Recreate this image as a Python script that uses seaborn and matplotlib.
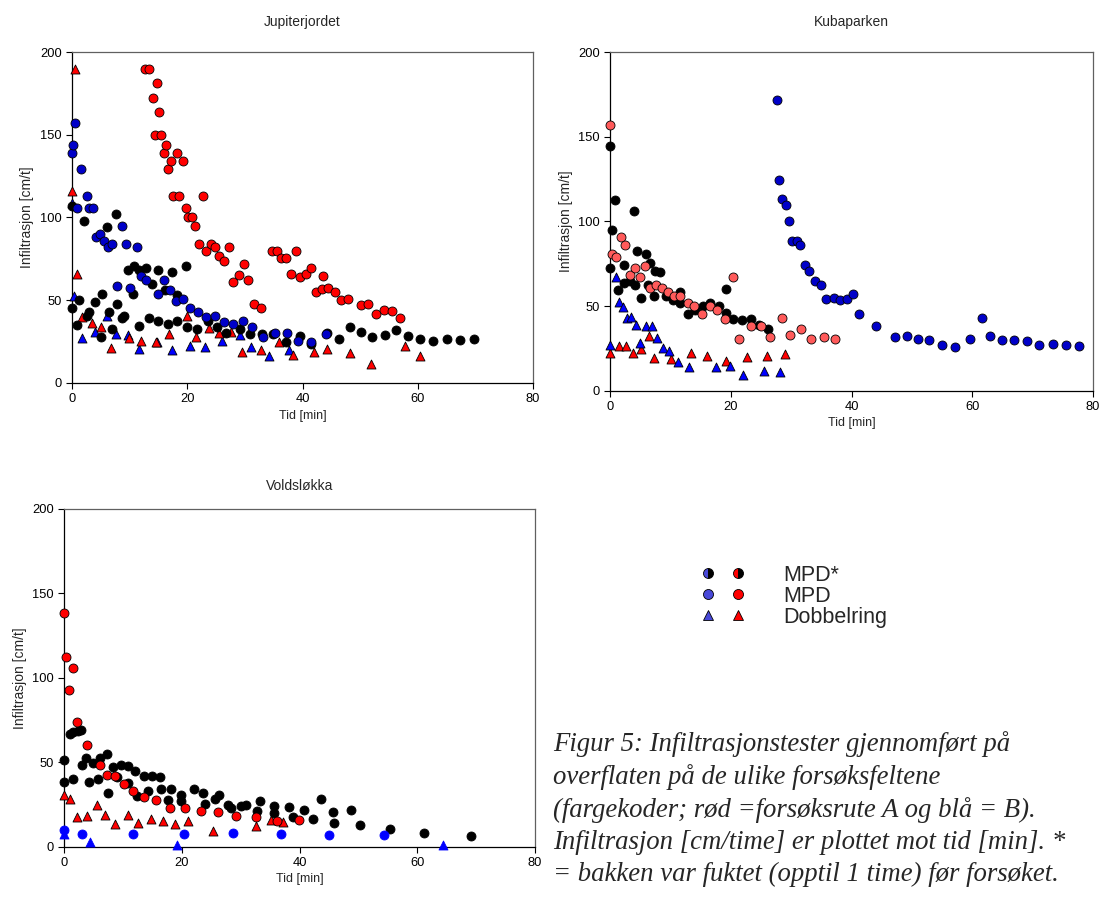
import matplotlib
matplotlib.use("Agg")
import matplotlib.pyplot as plt
import seaborn as sns
import pandas as pd
from matplotlib.lines import Line2D
from matplotlib.legend_handler import HandlerTuple

# ---- data: (tid [min], infiltrasjon [cm/t]) ----

# Jupiterjordet
jup_mpd_a = [(12.7, 190), (13.4, 190), (14.1, 172), (14.4, 150), (14.8, 181), (15.1, 164),
             (15.5, 150), (15.9, 139), (16.3, 144), (16.7, 129), (17.2, 134), (17.6, 113),
             (18.2, 139), (18.6, 113), (19.2, 134), (19.7, 106), (20.2, 100), (20.9, 100),
             (21.4, 95), (22.0, 84), (22.8, 113), (23.3, 80), (24.1, 84), (24.8, 82),
             (25.5, 77), (26.3, 74), (27.2, 82), (27.9, 61), (28.9, 65), (29.8, 72),
             (30.6, 62), (31.6, 48), (32.8, 45), (34.7, 80), (35.6, 80), (36.2, 75.5),
             (37.2, 75.5), (38.0, 66), (38.9, 80), (39.6, 64), (40.6, 66), (41.5, 69.5),
             (42.4, 55), (43.4, 56.6), (43.5, 64.7), (44.5, 57.6), (45.6, 55), (46.7, 50),
             (47.9, 50.5), (50.1, 47), (51.4, 47.7), (52.7, 41.7), (54.1, 44), (55.5, 43.3),
             (56.9, 39)]
jup_mpd_b = [(0.0, 139), (0.1, 144), (0.5, 157), (0.9, 106), (1.5, 129), (2.6, 113),
             (3.0, 106), (3.7, 106), (4.2, 88), (4.9, 90), (5.6, 86), (6.3, 82), (7.0, 84),
             (7.8, 58.6), (8.7, 95), (9.4, 84), (10.1, 57.4), (11.2, 82), (11.9, 64.7),
             (12.9, 62.4), (14.9, 54), (16.0, 62.4), (17.0, 56), (18.0, 49.7), (19.3, 50.5),
             (20.5, 45), (21.9, 43), (23.3, 40), (24.8, 40.7), (26.3, 37), (28.0, 35.6),
             (29.7, 37.5), (31.3, 33.8), (33.1, 27.6), (35.3, 30.2), (37.3, 30.2),
             (39.3, 25.6), (41.5, 24.6), (44.1, 29.4)]
jup_mpd_fuktet = [(0.0, 45), (0.0, 107), (0.9, 34.8), (1.2, 50.4), (2.0, 97.7), (2.6, 40.7),
                  (3.0, 43), (4.0, 49), (5.0, 27.6), (5.2, 54), (6.0, 94), (6.4, 43),
                  (6.9, 32.8), (7.7, 102), (7.8, 47.7), (8.7, 39.3), (9.0, 40.7), (9.7, 68.3),
                  (10.5, 54), (10.8, 70.5), (11.6, 34.2), (11.7, 68.3), (12.8, 69.5),
                  (13.4, 39.3), (13.8, 59.6), (14.9, 68.3), (14.9, 37.7), (16.1, 56),
                  (16.6, 35.6), (17.3, 67), (18.3, 53), (18.3, 37.7), (19.7, 70.5),
                  (19.9, 33.8), (21.7, 32.8), (23.6, 37.3), (25.2, 33.8), (26.8, 30.2),
                  (29.1, 32.6), (30.9, 29.6), (33.0, 29.8), (34.9, 29.8), (37.2, 24.6),
                  (39.5, 28.6), (41.5, 23.8), (44.2, 30.2), (46.3, 26.4), (48.3, 33.8),
                  (50.1, 30.8), (52.0, 27.8), (54.3, 29.2), (56.3, 32.2), (58.3, 28.6),
                  (60.4, 26.6), (62.7, 25.6), (65.0, 26.8), (67.3, 26.2), (69.7, 26.4)]
jup_ring_a = [(0.0, 116), (0.5, 190), (0.8, 66), (1.7, 40), (3.4, 36), (5.0, 34), (6.7, 21),
              (9.8, 27), (12.0, 25.6), (14.5, 24.8), (16.9, 29.4), (19.9, 40.7), (21.5, 27.6),
              (23.7, 33), (25.5, 30.2), (27.6, 31), (29.5, 18.5), (32.8, 20), (35.9, 24.8),
              (38.4, 17), (42.0, 18.7), (44.3, 20.7), (48.3, 18), (51.8, 11.3), (57.7, 22.6),
              (60.4, 16.5)]
jup_ring_b = [(0.0, 109), (0.35, 52.5), (1.7, 27), (3.95, 30.6), (6.0, 40.3), (7.6, 29.8),
              (9.7, 28.8), (11.7, 20.7), (14.7, 24.8), (17.3, 20), (20.4, 22.6), (23.1, 21.6),
              (26.0, 25.2), (29.1, 29), (31.1, 21.8), (34.1, 16.5), (37.7, 20)]

# Kubaparken
kuba_mpd_a = [(0.0, 157), (0.3, 80.8), (1.0, 78.8), (1.8, 90.6), (2.5, 86.3), (3.2, 68.4),
              (4.1, 72.5), (4.9, 67.4), (5.7, 73.9), (6.6, 60.5), (7.6, 62.6), (8.6, 60.5),
              (9.6, 58.5), (10.6, 56.1), (11.6, 55.8), (12.8, 52), (13.9, 49.8), (15.2, 45.3),
              (16.5, 49.8), (17.7, 47.7), (19.0, 42.4), (20.4, 67.2), (21.3, 30.5),
              (23.3, 38.4), (24.9, 38.4), (26.5, 31.9), (28.4, 43), (29.8, 32.9),
              (31.6, 36.2), (33.3, 30.5), (35.4, 31.7), (37.2, 30.5)]
kuba_mpd_b = [(27.7, 172), (28.0, 124.7), (28.5, 113), (29.1, 109.7), (29.6, 100.5),
              (30.1, 88.3), (30.9, 88.3), (31.5, 86.3), (32.3, 74), (33.0, 71), (33.9, 65),
              (34.9, 62.5), (35.8, 54.2), (37.0, 55), (38.0, 53.4), (39.2, 54.2), (40.3, 57),
              (41.3, 45.3), (44.0, 38.4), (47.2, 31.7), (49.1, 32.5), (51.0, 30.3),
              (52.9, 30.1), (55.0, 27), (57.2, 26), (59.6, 30.5), (61.6, 43), (63.0, 32.3),
              (64.9, 30.1), (66.9, 29.7), (69.0, 29.2), (71.1, 27), (73.3, 27.8), (75.5, 27),
              (77.7, 26.2)]
kuba_mpd_fuktet = [(0.0, 144.6), (0.0, 72.5), (0.3, 95.2), (0.7, 112.9), (1.3, 59.5),
                   (2.2, 74), (2.3, 63.8), (3.2, 64.6), (3.9, 106.4), (4.1, 62.5), (4.4, 82.3),
                   (5.1, 55), (5.9, 80.6), (6.2, 62.5), (6.6, 75.6), (7.2, 55.8), (7.4, 71),
                   (8.3, 70), (9.3, 55.8), (10.4, 53.8), (11.6, 58.1), (11.5, 51.8),
                   (12.8, 45.3), (14.1, 47.7), (15.3, 50), (16.5, 52), (18.0, 49.8),
                   (19.2, 60.3), (19.1, 46.1), (20.4, 42.4), (21.8, 41.8), (23.3, 42.6),
                   (24.7, 38.8), (26.2, 36.6)]
kuba_ring_a = [(0.0, 22), (1.4, 26.6), (2.6, 26.6), (3.7, 22), (5.1, 24.6), (6.4, 32.5),
               (7.3, 19.5), (10.0, 18.7), (13.3, 22.5), (16.1, 20.7), (19.1, 17.7),
               (22.7, 20.1), (25.9, 20.5), (28.9, 21.7)]
kuba_ring_b = [(0.0, 27), (1.0, 67.4), (1.5, 52.2), (2.1, 49.4), (2.7, 42.8), (3.5, 43.5),
               (4.2, 38.8), (5.0, 28.4), (5.9, 38.2), (6.9, 38.2), (7.7, 30.9), (8.7, 25.4),
               (9.8, 23.4), (11.2, 17.1), (13.0, 14), (17.5, 13.8), (19.8, 14.8), (22.0, 9.3),
               (25.4, 11.6), (28.2, 11)]

# Voldsløkka
vold_mpd_a = [(0.0, 138.4), (0.3, 112.5), (0.85, 92.6), (1.5, 106), (2.1, 73.6), (3.8, 60.2),
              (6.0, 48.2), (7.3, 42.6), (8.7, 41.7), (10.1, 37.3), (11.7, 32.8), (13.6, 29.2),
              (15.6, 27.4), (17.9, 23.1), (20.5, 22.7), (23.2, 21.1), (26.1, 20.5),
              (29.1, 18.2), (32.5, 17.6), (36.1, 15.4), (39.9, 15.8)]
vold_mpd_b = [(0.0, 10), (3.0, 7.5), (11.7, 7.5), (20.3, 7.5), (28.7, 7.9), (36.8, 7.5),
              (45.0, 7.1), (54.4, 7.1)]
vold_mpd_fuktet = [(0.0, 51.5), (0.0, 38.1), (1.0, 66.7), (1.5, 67.7), (2.3, 68.7), (2.9, 69.3),
                   (1.5, 40.3), (3.0, 48.2), (3.7, 52.7), (4.2, 38.5), (4.8, 49.8), (5.8, 40.3),
                   (6.1, 52.7), (7.2, 54.9), (7.4, 32), (8.3, 47.2), (8.9, 41.5), (9.6, 48.2),
                   (10.8, 47.8), (10.8, 37.5), (12.1, 45), (12.4, 29.8), (13.5, 41.7),
                   (14.3, 33), (14.9, 41.7), (16.2, 41.3), (16.4, 34.4), (17.6, 27.8),
                   (18.1, 34.2), (19.9, 30.6), (19.9, 27.2), (22.0, 34.4), (23.6, 31.6),
                   (23.9, 25.5), (25.6, 28), (26.3, 30.6), (27.8, 24.5), (28.3, 23.1),
                   (30.1, 24.1), (30.9, 24.5), (32.8, 21.3), (33.3, 26.9), (35.6, 23.9),
                   (35.6, 19.7), (38.2, 23.3), (38.8, 17.8), (40.7, 21.7), (42.2, 16.4),
                   (43.6, 28), (45.7, 20.3), (45.9, 13.8), (48.7, 21.5), (50.3, 12.6),
                   (55.4, 10.7), (61.1, 8.1), (69.1, 6.5)]
vold_ring_a = [(0.0, 30.4), (1.0, 28), (2.1, 17.8), (3.9, 18.2), (5.6, 24.9), (6.9, 18.8),
               (8.6, 13.4), (10.8, 18.8), (12.5, 13.8), (14.8, 16.4), (16.7, 15), (18.8, 13.4),
               (21.1, 15), (25.2, 9.3), (32.6, 12.4), (35.2, 15.8), (37.1, 14.8)]
vold_ring_b = [(0.0, 7.7), (4.3, 2.6), (19.2, 1.2), (64.4, 1.2)]

panel_names = ["Jupiterjordet", "Kubaparken", "Voldsløkka"]
legend_labels = ["MPD*", "MPD", "Dobbelring"]
caption_lines = [
    "Figur 5: Infiltrasjonstester gjennomført på",
    "overflaten på de ulike forsøksfeltene",
    "(fargekoder; rød =forsøksrute A og blå = B).",
    "Infiltrasjon [cm/time] er plottet mot tid [min]. *",
    "= bakken var fuktet (opptil 1 time) før forsøket.",
]

RED = "#FF0000"
LIGHT_RED = "#FF5A5A"
DARK_BLUE = "#0000C8"
BLUE = "#0000FF"
LEGEND_BLUE = "#4848D8"

# series drawn per panel: (data, marker, face colour, edge colour)
panels = {
    "Jupiterjordet": [
        (jup_ring_b, "^", BLUE, "black"),
        (jup_ring_a, "^", RED, "black"),
        (jup_mpd_fuktet, "o", "black", "black"),
        (jup_mpd_b, "o", DARK_BLUE, "black"),
        (jup_mpd_a, "o", RED, "black"),
    ],
    "Kubaparken": [
        (kuba_ring_a, "^", RED, "black"),
        (kuba_ring_b, "^", BLUE, "black"),
        (kuba_mpd_fuktet, "o", "black", "black"),
        (kuba_mpd_a, "o", LIGHT_RED, "black"),
        (kuba_mpd_b, "o", DARK_BLUE, "black"),
    ],
    "Voldsløkka": [
        (vold_ring_a, "^", RED, "black"),
        (vold_ring_b, "^", BLUE, BLUE),
        (vold_mpd_fuktet, "o", "black", "black"),
        (vold_mpd_a, "o", RED, "black"),
        (vold_mpd_b, "o", BLUE, BLUE),
    ],
}

sns.set_style("white")
plt.rcParams["font.family"] = ["Liberation Sans", "DejaVu Sans"]

fig = plt.figure(figsize=(11.1, 9.06), dpi=100)
ax_rects = {
    "Jupiterjordet": [0.0649, 0.5773, 0.4153, 0.3653],
    "Kubaparken": [0.5498, 0.5688, 0.4349, 0.3735],
    "Voldsløkka": [0.0579, 0.0655, 0.4241, 0.3727],
}
title_pads = {"Jupiterjordet": 19, "Kubaparken": 19, "Voldsløkka": 14}

for name in panel_names:
    ax = fig.add_axes(ax_rects[name])
    for data, marker, face, edge in panels[name]:
        df = pd.DataFrame(data, columns=["tid", "infiltrasjon"])
        sns.scatterplot(data=df, x="tid", y="infiltrasjon", ax=ax, marker=marker,
                        color=face, edgecolor=edge, linewidth=0.6, s=42, zorder=3,
                        legend=False, clip_on=False)
    ax.set_xlim(0, 80)
    ax.set_ylim(0, 200)
    ax.set_xticks([0, 20, 40, 60, 80])
    ax.set_yticks([0, 50, 100, 150, 200])
    ax.tick_params(axis="both", direction="out", length=4.5, width=0.8,
                   labelsize=9.3, colors="black", bottom=True, left=True, pad=3)
    ax.set_xlabel("Tid [min]", fontsize=9, labelpad=3)
    ax.set_ylabel("Infiltrasjon [cm/t]", fontsize=10, labelpad=4)
    ax.set_title(name, fontsize=10, pad=title_pads[name])
    for side in ["left", "bottom"]:
        ax.spines[side].set_color("black")
        ax.spines[side].set_linewidth(0.9)
    for side in ["top", "right"]:
        ax.spines[side].set_color("#606060")
        ax.spines[side].set_linewidth(0.9)

# legend: blue = forsøksrute B, red = forsøksrute A
def legend_marker(marker, face, half=False):
    kw = dict(ls="none", marker=marker, ms=7.2, markerfacecolor=face,
              markeredgecolor="black", markeredgewidth=0.6)
    if half:
        kw.update(fillstyle="left", markerfacecoloralt="black")
    return Line2D([], [], **kw)

handles = [
    (legend_marker("o", LEGEND_BLUE, True), legend_marker("o", RED, True)),
    (legend_marker("o", LEGEND_BLUE), legend_marker("o", RED)),
    (legend_marker("^", LEGEND_BLUE), legend_marker("^", RED)),
]
fig.legend(handles, legend_labels, handler_map={tuple: HandlerTuple(ndivide=None, pad=0.8)},
           loc="center left", bbox_to_anchor=(0.6243, 0.342), frameon=False, fontsize=15.5,
           handlelength=1.99, handletextpad=1.8, labelspacing=0.0, borderpad=0.4,
           borderaxespad=0)

fig.text(0.498, 0.1928, "\n".join(caption_lines), ha="left", va="top", fontsize=19.3,
         style="italic", family=["Liberation Serif", "DejaVu Serif"], linespacing=1.35)

fig.savefig("out.png", dpi=100)
